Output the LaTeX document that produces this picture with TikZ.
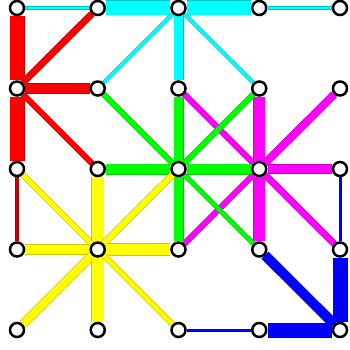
\documentclass[tikz,border=0pt]{standalone}
\usetikzlibrary{backgrounds}
\definecolor{cyn}{RGB}{0,255,255}
\definecolor{rd}{RGB}{255,0,0}
\definecolor{drd}{RGB}{200,0,0}
\definecolor{grn}{RGB}{0,255,0}
\definecolor{mag}{RGB}{255,0,255}
\definecolor{blu}{RGB}{0,0,255}
\definecolor{yel}{RGB}{255,255,0}
\newcommand\myedge[4]{%
  \pgfmathsetmacro\wout{#3}%
  \pgfmathsetmacro\win{max(#3-1.4,1)}%
  \draw[line width=\wout pt, draw=#4!78!black] (#1) -- (#2);
  \draw[line width=\win pt, draw=#4] (#1) -- (#2);
}
\begin{document}
\begin{tikzpicture}[x=1pt,y=-1pt,
  nd/.style={circle,draw=black,fill=white,line width=2.5pt,inner sep=0pt,minimum size=14pt}]
\useasboundingbox (0,0) rectangle (350,350);
\foreach \c in {0,...,4}{\foreach \r in {0,...,4}{
  \node[nd] (n\c\r) at ({17+80.75*\c},{8+80.5*\r}) {};}}
\begin{pgfonlayer}{background}
% cyan
\myedge{n00}{n10}{4}{cyn}
\myedge{n10}{n20}{15}{cyn}
\myedge{n20}{n30}{15}{cyn}
\myedge{n30}{n40}{4}{cyn}
\myedge{n20}{n21}{10}{cyn}
\myedge{n20}{n11}{4}{cyn}
\myedge{n20}{n31}{4}{cyn}
% red
\myedge{n00}{n01}{15}{rd}
\myedge{n01}{n10}{7}{rd}
\myedge{n01}{n11}{11}{rd}
\myedge{n01}{n02}{15}{rd}
\myedge{n01}{n12}{6}{rd}
\myedge{n02}{n03}{4}{drd}
% magenta
\myedge{n21}{n32}{6}{mag}
\myedge{n31}{n32}{12}{mag}
\myedge{n32}{n41}{8}{mag}
\myedge{n32}{n42}{10}{mag}
\myedge{n32}{n33}{12}{mag}
\myedge{n32}{n23}{6}{mag}
\myedge{n32}{n43}{7}{mag}
% green
\myedge{n11}{n22}{6}{grn}
\myedge{n12}{n22}{11}{grn}
\myedge{n21}{n22}{10}{grn}
\myedge{n22}{n31}{6}{grn}
\myedge{n22}{n32}{11}{grn}
\myedge{n22}{n23}{10}{grn}
\myedge{n22}{n33}{5}{grn}
% blue
\myedge{n42}{n43}{3}{blu}
\myedge{n43}{n44}{15}{blu}
\myedge{n33}{n44}{10}{blu}
\myedge{n34}{n44}{15}{blu}
\myedge{n24}{n34}{3}{blu}
% yellow
\myedge{n02}{n13}{6}{yel}
\myedge{n12}{n13}{13}{yel}
\myedge{n22}{n13}{7}{yel}
\myedge{n03}{n13}{11}{yel}
\myedge{n13}{n23}{13}{yel}
\myedge{n13}{n04}{9}{yel}
\myedge{n13}{n14}{13}{yel}
\myedge{n13}{n24}{6}{yel}
\end{pgfonlayer}
\end{tikzpicture}
\end{document}
